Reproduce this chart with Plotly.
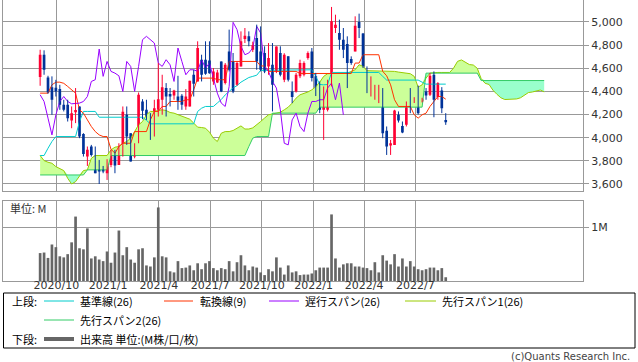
import plotly.graph_objects as go
import pandas as pd

# ---------------- data (weekly) ----------------
first_week = "2020-09-02"

open_ = [4524,4717,4521,4437,4431,4420,4284,4284,4149,4220,
         4270,4033,3837,3924,3843,3736,3742,3693,3765,3860,
         3765,3880,4198,4039,3837,3952,4313,4241,4206,4053,
         4241,4328,4429,4377,4365,4356,4362,4270,4270,4544,
         4486,4674,4674,4668,4486,4478,4659,4472,4746,4659,
         4457,4616,4853,4876,4760,4861,4746,4732,4616,4630,
         4573,4732,4501,4703,4400,4400,4530,4544,4688,4746,
         4530,4472,4241,4241,4457,4948,4905,4847,4810,4680,
         4746,5000,4900,4535,4437,4400,4371,4429,4059,3932,
         3938,4198,4102,4111,4356,4313,4429,4313,4400,4371,
         4544,4351,4408,4154]
high = [4760,4755,4535,4530,4500,4457,4328,4328,4270,4429,
        4270,4039,3924,3938,3924,3808,3756,3814,3895,3895,
        3952,4270,4270,4039,3952,4391,4333,4328,4212,4328,
        4645,4544,4472,4429,4414,4535,4377,4420,4492,4587,
        4833,4717,4833,4833,4602,4587,4659,4645,4934,4732,
        4660,4919,4948,4919,4830,4977,4962,4790,4818,4818,
        4789,4790,4730,4703,4486,4560,4674,4660,4746,4775,
        4560,4486,4443,4501,5130,5063,5020,4948,4876,4703,
        5049,5072,4905,4616,4530,4457,4457,4429,4097,3981,
        4241,4227,4140,4313,4429,4350,4450,4345,4429,4560,
        4573,4480,4437,4212]
low = [4449,4544,4380,4198,4356,4241,4227,4140,4082,4126,
       3996,3837,3756,3837,3693,3600,3693,3635,3745,3693,
       3765,3837,3938,3794,3822,3952,4160,4154,3981,4010,
       4183,4198,4183,4270,4328,4241,4241,4241,4270,4356,
       4486,4486,4544,4553,4457,4472,4394,4460,4573,4385,
       4449,4616,4818,4790,4740,4587,4573,4558,4544,4227,
       4558,4530,4480,4486,4299,4390,4515,4530,4674,4486,
       4360,4212,3981,4227,4443,4905,4760,4688,4429,4630,
       4746,4861,4602,4385,4356,4328,4299,3996,3851,3851,
       3938,4131,4039,4097,4212,4300,4200,4305,4328,4360,
       4177,4328,4212,4111]
close = [4717,4587,4391,4328,4400,4284,4241,4169,4212,4240,
         4010,3860,3895,3851,3693,3707,3707,3814,3860,3759,
         3889,4224,4010,3794,3895,4371,4232,4169,4053,4255,
         4333,4437,4356,4356,4408,4319,4284,4356,4492,4466,
         4775,4544,4553,4558,4573,4564,4400,4630,4587,4400,
         4645,4833,4882,4833,4800,4659,4587,4573,4688,4457,
         4789,4544,4717,4501,4351,4544,4645,4645,4732,4515,
         4420,4241,4356,4486,5006,4977,4847,4760,4645,4645,
         4968,4948,4616,4524,4515,4429,4429,4039,3924,3952,
         4235,4149,4045,4313,4293,4336,4212,4336,4365,4535,
         4328,4472,4255,4134]

volume_m = [0.52,0.53,0.43,0.68,0.63,0.46,0.44,0.50,0.72,1.20,
            0.61,0.59,0.98,0.42,0.46,0.40,0.37,0.55,0.34,0.53,
            0.94,0.48,0.63,0.40,0.34,0.59,0.61,0.29,0.27,0.44,
            1.37,0.46,0.44,0.18,0.16,0.37,0.24,0.25,0.29,0.20,
            0.33,0.22,0.33,0.37,0.24,0.20,0.24,0.22,0.37,0.18,
            0.35,0.48,0.29,0.20,0.27,0.25,0.16,0.11,0.22,0.18,
            0.44,0.25,0.12,0.29,0.16,0.18,0.11,0.12,0.12,0.14,
            0.20,0.25,0.25,0.25,1.24,0.42,0.25,0.31,0.33,0.33,
            0.27,0.27,0.25,0.24,0.20,0.35,0.16,0.48,0.38,0.31,
            0.50,0.27,0.42,0.27,0.37,0.27,0.22,0.20,0.22,0.25,
            0.25,0.20,0.24,0.07]

kijun = ([3846,3846,3909,3967] + [4010]*6 + [4140] + [4227]*4 + [4177]*12 + [4150] + [4120]*12
         + [4227,4255,4270,4270,4270,4300,4330,4370,4400,4430,4450,4480,4500,4520,4530,4540]
         + [4582]*13 + [4587,4530,4460,4457,4460] + [4564]*13 + [4530] + [4498]*9 + [4480] + [4463]*6)

tenkan = ([4385,4385,4385,4457,4480,4480,4470,4443,4414,4385,
           4241,4212,4154,4097,4053,4024,4010,4010,3900,3866,3924]
          + [3952]*3 + [4053]*4 + [4154] + [4227]*2 + [4270]*2 + [4313]*4 + [4328]*2 + [4414]
          + [4515]*5 + [4501]*3 + [4659]*8 + [4620]*2 + [4573]*8 + [4555]*14
          + [4645]*2 + [4717]*5 + [4573,4535,4457,4328] + [4270]*4
          + [4198,4169,4198,4212,4270,4313,4356,4356,4333])

chikou = [4371,4313,4169,4024,4198,4313,4356,4313,4293,4299,
          4299,4313,4356,4486,4501,4766,4530,4659,4573,4558,
          4535,4400,4659,4616,4400,4616,4847,4876,4847,4818,
          4645,4616,4674,4630,4486,4775,4659,4544,4587,4587,
          4573,4674,4602,4645,4515,4385,4299,4270,4443,4997,
          4934,4790,4717,4732,4775,4962,4905,4616,4573,4486,
          4429,4241,3952,3938,4154,4212,4097,4053,4212,4313,
          4313,4328,4328,4429,4472,4328,4472,4198]

span_a = [3846,3802,3788,3779,3750,3736,3716,3649,3600,3620,
          3670,3716,3722,3822,3846,3846,3846,3846,3895,3918,
          3924,3952,3967,3996,4053,4111,4140,4198,4227,4227,
          4235,4241,4235,4218,4212,4198,4183,4169,4160,4126,
          4091,4088,4082,4048,3996,3967,4039,4053,4053,4062,
          4082,4102,4075,4075,4085,4110,4140,4170,4198,4205,
          4212,4220,4241,4264,4299,4342,4371,4380,4395,4414,
          4440,4480,4530,4553,4558,4558,4558,4558,4558,4573,
          4587,4631,4616,4579,4579,4579,4579,4573,4573,4573,
          4573,4567,4564,4558,4553,4530,4437,4457,4515,4558,
          4564,4564,4564,4564,4564,4602,4660,4672,4650,4632,
          4628,4600,4510,4470,4460,4410,4375,4345,4330,4330,
          4332,4335,4345,4370,4390,4395,4405,4412,4396]

span_b = ([3678]*12 + [3722]*6 + [3846]*35 + [3924,3996] + [4010]*4 + [4212]*12
          + [4264]*27 + [4558]*14 + [4494]*17)

tick_dates = ["2020-10-01","2021-01-01","2021-04-01","2021-07-01",
              "2021-10-01","2022-01-01","2022-04-01","2022-07-01"]
tick_text = ["2020/10","2021/1","2021/4","2021/7","2021/10","2022/1","2022/4","2022/7"]
price_ticks = [3600,3800,4000,4200,4400,4600,4800,5000]

# ---------------- figure ----------------
dates = pd.date_range(first_week, periods=len(close), freq="7D")
cloud_dates = pd.date_range(first_week, periods=len(span_a), freq="7D")
chikou_dates = dates[:len(chikou)]
upper = [max(a, b) for a, b in zip(span_a, span_b)]

C_RED = "#ff0033"
C_BLUE = "#003399"
C_KIJUN = "#00cccc"
C_TENKAN = "#ff3300"
C_CHIKOU = "#9900ff"
C_SPANA = "#99cc00"
C_SPANB = "#33cc66"
C_GRID = "#999999"
WEEK_MS = 7 * 24 * 3600 * 1000

fig = go.Figure()
# cloud fills
fig.add_trace(go.Scatter(x=cloud_dates, y=span_b, mode="lines", line=dict(width=0), hoverinfo="skip", showlegend=False))
fig.add_trace(go.Scatter(x=cloud_dates, y=upper, mode="lines", line=dict(width=0), fill="tonexty",
                         fillcolor="#ccff99", hoverinfo="skip", showlegend=False))
fig.add_trace(go.Scatter(x=cloud_dates, y=span_a, mode="lines", line=dict(width=0), hoverinfo="skip", showlegend=False))
fig.add_trace(go.Scatter(x=cloud_dates, y=upper, mode="lines", line=dict(width=0), fill="tonexty",
                         fillcolor="#99ffcc", hoverinfo="skip", showlegend=False))
# lines
fig.add_trace(go.Scatter(x=cloud_dates, y=span_a, mode="lines", line=dict(color=C_SPANA, width=1), showlegend=False))
fig.add_trace(go.Scatter(x=cloud_dates, y=span_b, mode="lines", line=dict(color=C_SPANB, width=1), showlegend=False))
fig.add_trace(go.Scatter(x=dates, y=kijun, mode="lines", line=dict(color=C_KIJUN, width=1), showlegend=False))
fig.add_trace(go.Scatter(x=dates, y=tenkan, mode="lines", line=dict(color=C_TENKAN, width=1), showlegend=False))
fig.add_trace(go.Scatter(x=chikou_dates, y=chikou, mode="lines", line=dict(color=C_CHIKOU, width=1), showlegend=False))

# candles: wicks (scatter segments) + bodies (bars with base)
up = [c >= o for o, c in zip(open_, close)]
for is_up, col in ((True, C_RED), (False, C_BLUE)):
    wx, wy = [], []
    for d, h, l, u in zip(dates, high, low, up):
        if u == is_up:
            wx += [d, d, None]
            wy += [l, h, None]
    fig.add_trace(go.Scatter(x=wx, y=wy, mode="lines", line=dict(color=col, width=1),
                             hoverinfo="skip", showlegend=False))
body_base = [min(o, c) for o, c in zip(open_, close)]
body_len = [max(abs(c - o), 8) for o, c in zip(open_, close)]
fig.add_trace(go.Bar(x=dates, y=body_len, base=body_base, width=0.68 * WEEK_MS,
                     marker=dict(color=[C_RED if u else C_BLUE for u in up], line=dict(width=0)),
                     showlegend=False))
# volume
fig.add_trace(go.Bar(x=dates, y=volume_m, width=0.68 * WEEK_MS,
                     marker=dict(color="#666666", line=dict(width=0)),
                     xaxis="x2", yaxis="y2", showlegend=False))

W, H = 638, 362
ML, MR, MT, MB = 3, 55, 0, 81
PW, PH = W - ML - MR, H - MT - MB


def px(x):
    return (x - ML) / PW


def py(y):
    return (H - MB - y) / PH


x_range = ["2020-06-28", "2023-04-25"]
axis_common = dict(showline=True, linecolor=C_GRID, linewidth=1, mirror=True,
                   showgrid=True, gridcolor=C_GRID, gridwidth=1, zeroline=False)

fig.update_layout(
    width=W, height=H, autosize=False,
    margin=dict(l=ML, r=MR, t=MT, b=MB),
    paper_bgcolor="white", plot_bgcolor="white",
    showlegend=False, barmode="overlay",
    font=dict(family="DejaVu Sans", size=11, color="#333333"),
    xaxis=dict(type="date", range=x_range, domain=[0, 1], anchor="y",
               tickvals=tick_dates, showticklabels=False, ticks="",
               rangeslider=dict(visible=False), **axis_common),
    yaxis=dict(domain=[py(190.7), 1], range=[3542, 5190], side="right",
               tickvals=price_ticks, ticktext=[f"{v:,}" for v in price_ticks],
               ticks="outside", ticklen=5, tickcolor=C_GRID, anchor="x", **axis_common),
    xaxis2=dict(type="date", range=x_range, domain=[0, 1], anchor="y2",
                tickvals=tick_dates, ticktext=tick_text, ticks="", ticklabelstandoff=-6,
                matches="x", **axis_common),
    yaxis2=dict(domain=[0, py(201)], range=[0, 1.49], side="right", anchor="x2",
                tickvals=[1], ticktext=["1M"], ticks="outside", ticklen=5, tickcolor=C_GRID,
                **axis_common),
)

JP = "Noto Sans CJK JP"
ann = []


def text(x, y, s, anchor="left", size=11, color="#000000", family=JP):
    ann.append(dict(x=px(x), y=py(y), xref="paper", yref="paper", text=s, showarrow=False,
                    xanchor=anchor, yanchor="middle", font=dict(family=family, size=size, color=color)))


shapes = []


def hline(x0, x1, y, color, width=1):
    shapes.append(dict(type="line", xref="paper", yref="paper", x0=px(x0), x1=px(x1), y0=py(y), y1=py(y),
                       line=dict(color=color, width=width)))


text(8, 208, "単位: M", color="#333333")
# legend box
shapes.append(dict(type="rect", xref="paper", yref="paper", x0=px(3.5), x1=px(635), y0=py(293), y1=py(348),
                   line=dict(color="#000000", width=1), fillcolor="rgba(0,0,0,0)"))
r1, r2, r3 = 301, 320, 339
text(10, r1, "上段:")
hline(44, 74, r1, C_KIJUN)
text(78, r1, "基準線(26)")
hline(164, 193, r1, C_TENKAN)
text(198, r1, "転換線(9)")
hline(269, 299, r1, C_CHIKOU)
text(303, r1, "遅行スパン(26)")
hline(405, 436, r1, C_SPANA)
text(440, r1, "先行スパン1(26)")
hline(44, 74, r2, C_SPANB)
text(78, r2, "先行スパン2(26)")
text(10, r3, "下段:")
hline(44, 74, r3, "#666666", 4)
text(78, r3, "出来高 単位:(M株/口/枚)")
text(632, 356, "(c)Quants Research Inc.", anchor="right", color="#444444", family="DejaVu Sans", size=10)

fig.update_layout(annotations=ann, shapes=shapes)

fig.write_html("out.html", config={"displayModeBar": False},
               post_script="document.body.style.margin='0';")
